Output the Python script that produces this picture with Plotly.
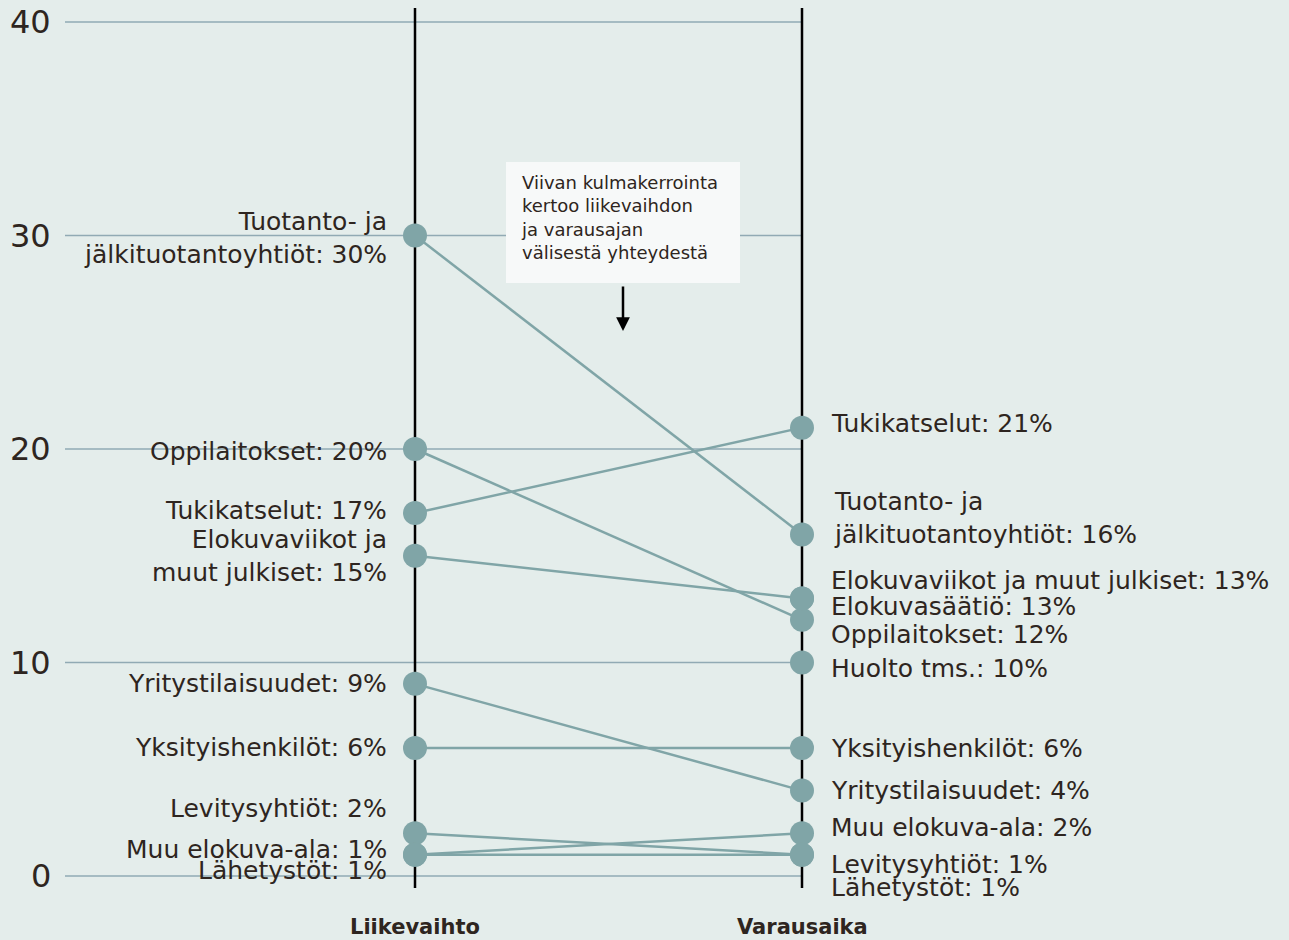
import plotly.graph_objects as go

# ---- data ----
categories = ["Tuotanto- ja jälkituotantoyhtiöt", "Oppilaitokset", "Tukikatselut",
              "Elokuvaviikot ja muut julkiset", "Yritystilaisuudet", "Yksityishenkilöt",
              "Levitysyhtiöt", "Muu elokuva-ala", "Lähetystöt", "Elokuvasäätiö", "Huolto tms."]
liikevaihto = [30, 20, 17, 15, 9, 6, 2, 1, 1, None, None]
varausaika = [16, 12, 21, 13, 4, 6, 1, 2, 1, 13, 10]
columns = ["Liikevaihto", "Varausaika"]
y_ticks = [0, 10, 20, 30, 40]

left_text = {
    "Tuotanto- ja jälkituotantoyhtiöt": "Tuotanto- ja<br>jälkituotantoyhtiöt: {}%",
    "Elokuvaviikot ja muut julkiset": "Elokuvaviikot ja<br>muut julkiset: {}%",
}
right_text = {
    "Tuotanto- ja jälkituotantoyhtiöt": "Tuotanto- ja<br>jälkituotantoyhtiöt: {}%",
}
# label pixel nudges (up positive)
left_shift = {"Tuotanto- ja jälkituotantoyhtiöt": -2, "Oppilaitokset": -2, "Tukikatselut": 3,
              "Elokuvaviikot ja muut julkiset": 0, "Yritystilaisuudet": 0, "Yksityishenkilöt": 0,
              "Levitysyhtiöt": 25, "Muu elokuva-ala": 5, "Lähetystöt": -16}
right_shift = {"Tuotanto- ja jälkituotantoyhtiöt": 16, "Oppilaitokset": -15, "Tukikatselut": 4,
               "Elokuvaviikot ja muut julkiset": 18, "Yritystilaisuudet": 0, "Yksityishenkilöt": -1,
               "Levitysyhtiöt": -10, "Muu elokuva-ala": 6, "Lähetystöt": -33,
               "Elokuvasäätiö": -8, "Huolto tms.": -6}
right_xshift = {"Tuotanto- ja jälkituotantoyhtiöt": 3}

BG = "#e4edeb"
GRID = "#91aab4"
DOT = "#80a5a7"
TXT = "#2e2520"
FONT = "DejaVu Sans"

W, H = 1289, 940
px_per_x = 387.0
x_left_px = 415.0
x0 = -x_left_px / px_per_x
x1 = x0 + W / px_per_x
px_per_y = 21.35
y0 = -(H - 876) / px_per_y
y1 = 876 / px_per_y

def xp(p):
    return (p - x_left_px) / px_per_x

def yp(p):
    return (876 - p) / px_per_y

fig = go.Figure()

# gridlines
for t in y_ticks:
    fig.add_shape(type="line", x0=xp(65), x1=1, y0=t, y1=t,
                  line=dict(color=GRID, width=1.5), layer="below")
    fig.add_annotation(x=xp(53), y=t, text=str(t), showarrow=False, xanchor="right",
                       yanchor="middle", font=dict(family=FONT, size=32, color=TXT))

# vertical column lines
for i, c in enumerate(columns):
    fig.add_shape(type="line", x0=i, x1=i, y0=yp(888), y1=yp(8),
                  line=dict(color="black", width=2.5), layer="below")
    fig.add_annotation(x=i, y=yp(927), text="<b>" + c + "</b>", showarrow=False,
                       xanchor="center", yanchor="middle",
                       font=dict(family=FONT, size=21, color=TXT))

# slope lines
for cat, a, b in zip(categories, liikevaihto, varausaika):
    if a is not None and b is not None:
        fig.add_trace(go.Scatter(x=[0, 1], y=[a, b], mode="lines",
                                 line=dict(color=DOT, width=2.5), hoverinfo="skip"))

# dots
lx = [0 for a in liikevaihto if a is not None]
ly = [a for a in liikevaihto if a is not None]
rx = [1 for b in varausaika if b is not None]
ry = [b for b in varausaika if b is not None]
fig.add_trace(go.Scatter(x=lx + rx, y=ly + ry, mode="markers",
                         marker=dict(color=DOT, size=24, line=dict(width=0))))

# labels
for cat, a, b in zip(categories, liikevaihto, varausaika):
    if a is not None:
        txt = left_text.get(cat, cat + ": {}%").format(a)
        fig.add_annotation(x=xp(389), y=a, text=txt, showarrow=False, xanchor="right",
                           yanchor="middle", align="right", yshift=left_shift.get(cat, 0),
                           font=dict(family=FONT, size=25, color=TXT))
    if b is not None:
        txt = right_text.get(cat, cat + ": {}%").format(b)
        fig.add_annotation(x=xp(829), y=b, text=txt, showarrow=False, xanchor="left",
                           yanchor="middle", align="left", yshift=right_shift.get(cat, 0),
                           xshift=right_xshift.get(cat, 0),
                           font=dict(family=FONT, size=25, color=TXT))

# note box
fig.add_shape(type="rect", x0=xp(506), x1=xp(740), y0=yp(283), y1=yp(162),
              fillcolor="#f7f9f9", line=dict(width=0), layer="above")
fig.add_annotation(x=xp(519), y=yp(170), text="Viivan kulmakerrointa<br>kertoo liikevaihdon<br>ja varausajan<br>välisestä yhteydestä",
                   showarrow=False, xanchor="left", yanchor="top", align="left",
                   font=dict(family=FONT, size=18, color=TXT))
fig.add_annotation(x=xp(623), y=yp(331), ax=0, ay=-46, axref="pixel", ayref="pixel",
                   text="", showarrow=True, arrowhead=2, arrowsize=1.1, arrowwidth=2.5,
                   arrowcolor="black")

fig.update_layout(
    width=W, height=H, paper_bgcolor=BG, plot_bgcolor=BG,
    margin=dict(l=0, r=0, t=0, b=0), showlegend=False,
    xaxis=dict(range=[x0, x1], visible=False, fixedrange=True),
    yaxis=dict(range=[y0, y1], visible=False, fixedrange=True),
)

fig.write_html("out.html", config={"displayModeBar": False},
               post_script="document.body.style.margin='0';document.body.style.overflow='hidden';")
